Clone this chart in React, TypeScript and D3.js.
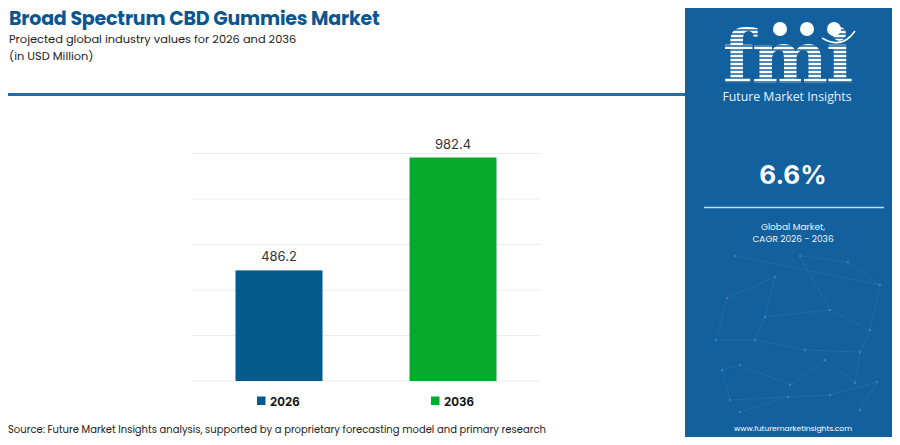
import React from 'react';
import * as d3 from 'd3';

// chart values
const years = ['2026', '2036'];
const values = [486.2, 982.4];
const barColors = ['#045a8d', '#06ab2b'];
const yTicks = [0, 200, 400, 600, 800, 1000];

const cagr = '6.6%';
const title = 'Broad Spectrum CBD Gummies Market';
const subtitle = 'Projected global industry values for 2026 and 2036';
const unitLabel = '(in USD Million)';
const source = 'Source: Future Market Insights analysis, supported by a proprietary forecasting model and primary research';

// background network decoration in the side panel
const netPoints: [number, number][] = [
  [735, 256], [800, 256], [848, 262], [880, 285], [775, 277], [727, 298],
  [765, 317], [830, 310], [870, 330], [716, 340], [755, 340], [805, 350],
  [860, 352], [722, 370], [740, 365], [790, 385], [825, 360], [855, 383],
  [730, 400], [788, 397], [830, 395], [877, 382], [860, 410], [740, 412],
];
const netLinks: [number, number][] = [
  [0, 3], [1, 2], [2, 3], [4, 5], [4, 6], [6, 7], [7, 8], [5, 9], [9, 10],
  [10, 11], [11, 12], [6, 10], [13, 14], [14, 15], [15, 16], [16, 17],
  [12, 17], [18, 19], [19, 20], [20, 21], [21, 22], [13, 18], [23, 19], [1, 7],
  [8, 12], [3, 8],
];

const PANEL_X = 685;
const PANEL_CX = 793;

const App: React.FC = () => {
  const W = 900;
  const H = 445;

  const x = d3.scaleBand<string>()
    .domain(years)
    .range([192, 540])
    .paddingInner(0.5)
    .paddingOuter(0.25);

  const y = d3.scaleLinear()
    .domain([0, 1000])
    .range([381, 153.5]);

  const font = "Poppins, 'Open Sans', 'Noto Sans', sans-serif";

  // stripes for the logo letters
  const stripeYs = d3.range(30, 86, 4);

  return (
    <div style={{ width: W, height: H, margin: -8 }}>
      <svg width={W} height={H} style={{ display: 'block' }} fontFamily={font}>
        <rect x={0} y={0} width={W} height={H} fill="#ffffff" />
        <rect x={0.5} y={0.5} width={W - 1} height={H - 1} fill="none" stroke="#d9d9d9" />

        {/* titles */}
        <text x={9} y={25} fontSize={19} fontWeight={700} fill="#0b5690" letterSpacing={-0.2}>{title}</text>
        <text x={9} y={43} fontSize={11.4} fill="#222">{subtitle}</text>
        <text x={9} y={60} fontSize={11.4} fill="#222">{unitLabel}</text>

        <rect x={0} y={93} width={PANEL_X} height={3} fill="#1f6eab" />

        {/* gridlines */}
        {yTicks.map(t => (
          <line key={t} x1={192} x2={540} y1={y(t)} y2={y(t)} stroke="#ececec" strokeWidth={1} />
        ))}

        {/* bars */}
        {years.map((yr, i) => (
          <g key={yr}>
            <rect
              x={x(yr)}
              y={y(values[i])}
              width={x.bandwidth()}
              height={y(0) - y(values[i])}
              fill={barColors[i]}
            />
            <text
              x={(x(yr) ?? 0) + x.bandwidth() / 2}
              y={y(values[i]) - 9}
              textAnchor="middle"
              fontSize={13}
              fill="#333"
              fontFamily="Inter, 'Noto Sans', sans-serif"
            >
              {values[i].toFixed(1)}
            </text>
          </g>
        ))}

        {/* legend */}
        {years.map((yr, i) => {
          const cx = (x(yr) ?? 0) + x.bandwidth() / 2;
          return (
            <g key={'lg' + yr} transform={`translate(${cx - 22},0)`}>
              <rect x={0} y={396.5} width={8.5} height={8.5} fill={barColors[i]} />
              <text x={13} y={405.5} fontSize={11.5} fontWeight={700} fill="#111"
                fontFamily="Inter, 'Noto Sans', sans-serif">{yr}</text>
            </g>
          );
        })}

        {/* source */}
        <text x={8} y={433} fontSize={10} fill="#222">{source}</text>

        {/* bottom colour band */}
        <rect x={4} y={437} width={227} height={5} fill="#8cc43f" />
        <rect x={231} y={437} width={225} height={5} fill="#e8642c" />
        <rect x={456} y={437} width={PANEL_X - 456} height={5} fill="#8a2c8f" />

        {/* right panel */}
        <rect x={PANEL_X} y={8} width={W - PANEL_X - 2} height={H - 10} fill="#13609e" />

        <g stroke="#6fa3cc" strokeOpacity={0.22} strokeWidth={0.7}>
          {netLinks.map(([a, b], i) => (
            <line key={i} x1={netPoints[a][0]} y1={netPoints[a][1]} x2={netPoints[b][0]} y2={netPoints[b][1]} />
          ))}
        </g>
        <g fill="#8fbbe0" fillOpacity={0.3}>
          {netPoints.map((p, i) => <circle key={i} cx={p[0]} cy={p[1]} r={1.2} />)}
        </g>

        {/* logo */}
        <text x={PANEL_CX - 6} y={83} textAnchor="middle" fontSize={72} fontWeight={700}
          fill="#ffffff" fontFamily="'DejaVu Serif', 'Liberation Serif', serif" letterSpacing={-2}>fmi</text>
        <g stroke="#13609e" strokeWidth={1.3}>
          {stripeYs.map(sy => (
            <line key={sy} x1={715} x2={860} y1={sy} y2={sy} />
          ))}
        </g>
        <circle cx={780} cy={29} r={7} fill="#ffffff" />
        <circle cx={807} cy={29} r={7} fill="#ffffff" />
        <circle cx={834} cy={29} r={7} fill="#ffffff" />
        <path d="M822,38 Q842,50 855,31" fill="none" stroke="#ffffff" strokeWidth={1.5} />

        <text x={PANEL_CX - 6} y={101} textAnchor="middle" fontSize={12.3} fill="#e8f1f8"
          fontFamily="'Open Sans', 'Noto Sans', sans-serif">Future Market Insights</text>

        <text x={PANEL_CX} y={184} textAnchor="middle" fontSize={26} fontWeight={700} fill="#ffffff"
          fontFamily="Inter, 'Noto Sans', sans-serif">{cagr}</text>
        <line x1={704} x2={884} y1={207.5} y2={207.5} stroke="#c6dcee" strokeWidth={1.5} />
        <text x={PANEL_CX} y={230} textAnchor="middle" fontSize={9} fill="#eef4fa">Global Market,</text>
        <text x={PANEL_CX} y={242} textAnchor="middle" fontSize={9} fill="#eef4fa">CAGR 2026 - 2036</text>

        <text x={PANEL_CX} y={431} textAnchor="middle" fontSize={7.6} fill="#ffffff">
          www.futuremarketinsights.com
        </text>
      </svg>
    </div>
  );
};

export default App;
